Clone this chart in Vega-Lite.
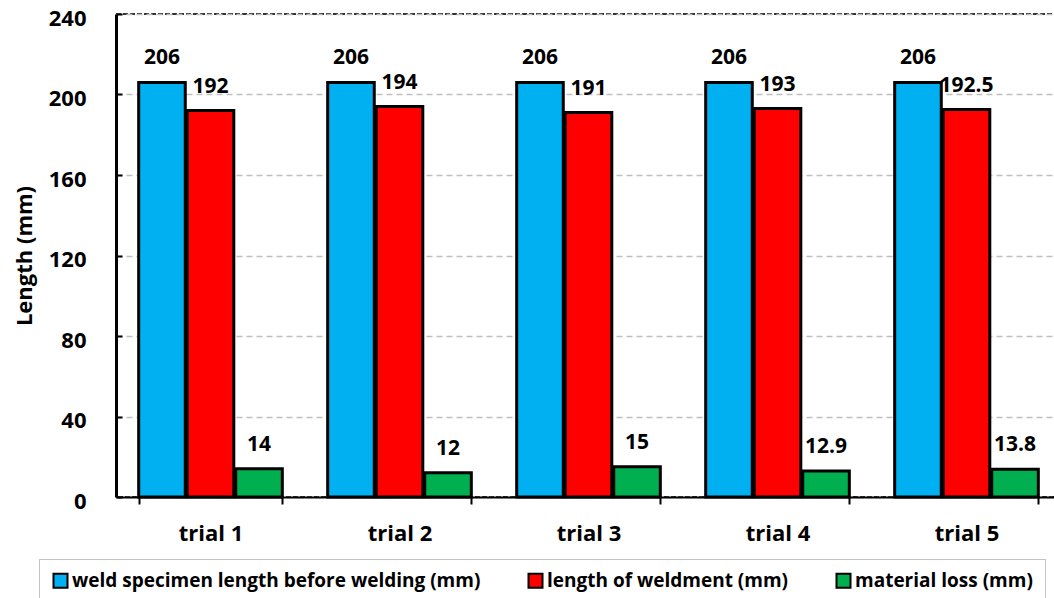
{
  "$schema": "https://vega.github.io/schema/vega-lite/v6.json",
  "autosize": {"type": "none"},
  "padding": {"left": 116, "top": 14, "right": 0, "bottom": 101},
  "width": 945,
  "height": 483,
  "background": "white",
  "config": {
    "font": "Open Sans",
    "view": {"stroke": "#333333", "strokeWidth": 2, "strokeDash": [5, 2]}
  },
  "data": {
    "values": [
      {"trial": "trial 1", "series": "weld specimen length before welding (mm)", "value": 206},
      {"trial": "trial 1", "series": "length of weldment (mm)", "value": 192},
      {"trial": "trial 1", "series": "material loss (mm)", "value": 14},
      {"trial": "trial 2", "series": "weld specimen length before welding (mm)", "value": 206},
      {"trial": "trial 2", "series": "length of weldment (mm)", "value": 194},
      {"trial": "trial 2", "series": "material loss (mm)", "value": 12},
      {"trial": "trial 3", "series": "weld specimen length before welding (mm)", "value": 206},
      {"trial": "trial 3", "series": "length of weldment (mm)", "value": 191},
      {"trial": "trial 3", "series": "material loss (mm)", "value": 15},
      {"trial": "trial 4", "series": "weld specimen length before welding (mm)", "value": 206},
      {"trial": "trial 4", "series": "length of weldment (mm)", "value": 193},
      {"trial": "trial 4", "series": "material loss (mm)", "value": 12.9},
      {"trial": "trial 5", "series": "weld specimen length before welding (mm)", "value": 206},
      {"trial": "trial 5", "series": "length of weldment (mm)", "value": 192.5},
      {"trial": "trial 5", "series": "material loss (mm)", "value": 13.8}
    ]
  },
  "encoding": {
    "x": {
      "field": "trial",
      "type": "nominal",
      "scale": {"paddingInner": 0.24, "paddingOuter": 0.12},
      "axis": {
        "title": null,
        "labelAngle": 0,
        "labelFont": "Open Sans",
        "labelFontSize": 22,
        "labelFontWeight": "bold",
        "labelColor": "black",
        "labelPadding": 19,
        "tickBand": "extent",
        "tickSize": 7,
        "tickWidth": 2,
        "tickColor": "black",
        "domainColor": "black",
        "domainWidth": 2
      }
    },
    "xOffset": {
      "field": "series",
      "type": "nominal",
      "sort": ["weld specimen length before welding (mm)", "length of weldment (mm)", "material loss (mm)"],
      "scale": {"paddingInner": 0.04, "paddingOuter": 0}
    },
    "y": {
      "field": "value",
      "type": "quantitative",
      "scale": {"domain": [0, 240], "nice": false},
      "axis": {
        "title": "Length (mm)",
        "titleFont": "Open Sans",
        "titleFontSize": 22,
        "titleFontWeight": "bold",
        "titleColor": "black",
        "titlePadding": 12,
        "values": [0, 40, 80, 120, 160, 200, 240],
        "labelFont": "Open Sans",
        "labelFontSize": 22,
        "labelFontWeight": "bold",
        "labelColor": "black",
        "labelPadding": 36,
        "labelOffset": 4,
        "tickSize": -6,
        "tickWidth": 2,
        "tickColor": "black",
        "domainColor": "black",
        "domainWidth": 3,
        "grid": true,
        "gridColor": "#BFBFBF",
        "gridDash": [6, 4],
        "gridWidth": 1.5
      }
    }
  },
  "layer": [
    {
      "mark": {"type": "bar", "stroke": "black", "strokeWidth": 3},
      "encoding": {
        "color": {
          "field": "series",
          "type": "nominal",
          "sort": ["weld specimen length before welding (mm)", "length of weldment (mm)", "material loss (mm)"],
          "scale": {
            "domain": ["weld specimen length before welding (mm)", "length of weldment (mm)", "material loss (mm)"],
            "range": ["#00B0F0", "#FF0000", "#00B050"]
          },
          "legend": {
            "title": null,
            "orient": "none",
            "direction": "horizontal",
            "legendX": -77,
            "legendY": 545,
            "symbolType": "square",
            "symbolSize": 196,
            "symbolStrokeColor": "black",
            "symbolStrokeWidth": 2,
            "symbolOpacity": 1,
            "labelFont": "Open Sans",
            "labelFontSize": 19,
            "labelFontWeight": "bold",
            "labelColor": "black",
            "labelOffset": 2,
            "labelLimit": 600,
            "columnPadding": 43,
            "padding": 12,
            "strokeColor": "#888888",
            "fillColor": "white",
            "encode": {
              "legend": {"update": {"strokeDash": {"value": [1, 1]}}}
            }
          }
        }
      }
    },
    {
      "mark": {"type": "text", "font": "Open Sans", "fontSize": 21, "fontWeight": "bold", "color": "black", "baseline": "alphabetic", "dy": -18},
      "encoding": {
        "text": {"field": "value", "type": "quantitative"}
      }
    }
  ]
}
